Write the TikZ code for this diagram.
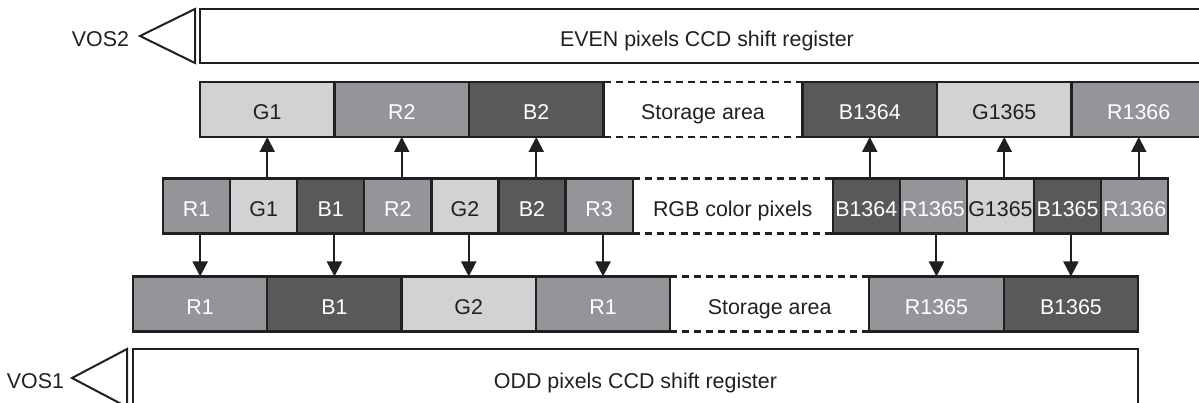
\documentclass[tikz,border=0pt]{standalone}
\usepackage{fontspec}
\setmainfont{Liberation Sans}
\usepackage{tikz}
\usetikzlibrary{arrows.meta, positioning}
\definecolor{gpix}{HTML}{D1D2D4}
\definecolor{rpix}{HTML}{939598}
\definecolor{bpix}{HTML}{58595B}
\definecolor{ink}{HTML}{231F20}
\tikzstyle{cell} = [draw=ink, line width=2.3pt, rectangle, outer sep=0pt, inner sep=0pt,
   minimum height=55pt, text height=21pt, text depth=0pt, font=\fontsize{21.4}{24}\selectfont]
\tikzstyle{wide} = [cell, minimum width=134.5pt]
\tikzstyle{narrow} = [cell, minimum width=67.1pt]
\tikzstyle{gpx} = [fill=gpix, text=ink]
\tikzstyle{rpx} = [fill=rpix, text=white]
\tikzstyle{bpx} = [fill=bpix, text=white]
\tikzstyle{store} = [cell, draw=none, minimum width=199pt, text=ink]
\tikzstyle{reg} = [draw=ink, line width=2pt, rectangle, outer sep=0pt, inner sep=0pt,
   text height=21pt, text depth=0pt, font=\fontsize{21.4}{24}\selectfont, text=ink]
\tikzstyle{outp} = [draw=ink, line width=2pt, fill=white, line join=miter]
\tikzstyle{move} = [draw=ink, line width=2pt, -{Triangle[width=15pt,length=15pt]}]

\begin{document}
\begin{tikzpicture}[x=1pt,y=-1pt]
  \useasboundingbox (0,0) rectangle (1199,403);

  % shift registers
  \node[reg,minimum width=1014pt,minimum height=54pt] at (707,36)(even){EVEN pixels CCD shift register};
  \node[reg,minimum width=1005pt,minimum height=58pt] at (635.5,378)(odd){ODD pixels CCD shift register};
  \draw[outp] ([xshift=-5pt]even.north west) -- ([xshift=-5pt]even.south west) -- ([xshift=-60pt]even.west) -- cycle;
  \draw[outp] ([xshift=-6pt]odd.north west) -- ([xshift=-6pt]odd.south west) -- ([xshift=-61pt]odd.west) -- cycle;
  \node[reg,draw=none,anchor=east] at (129,36)(vos2){VOS2};
  \node[reg,draw=none,anchor=east] at (64,378)(vos1){VOS1};

  % even storage row
  \node[wide,gpx] at (267.25,109.5)(t1){G1};
  \node[wide,rpx,right=0pt of t1](t2){R2};
  \node[wide,bpx,right=0pt of t2](t3){B2};
  \node[store,right=0pt of t3](ts){Storage area};
  \node[wide,bpx,right=0pt of ts](t4){B1364};
  \node[wide,gpx,right=0pt of t4](t5){G1365};
  \node[wide,rpx,right=0pt of t5](t6){R1366};
  \draw[ink,line width=2.2pt,dash pattern=on 7pt off 5pt] (t3.north east) -- (t4.north west) (t3.south east) -- (t4.south west);

  % colour pixels
  \node[narrow,rpx] at (196.55,206)(m1){R1};
  \node[narrow,gpx,right=0pt of m1](m2){G1};
  \node[narrow,bpx,right=0pt of m2](m3){B1};
  \node[narrow,rpx,right=0pt of m3](m4){R2};
  \node[narrow,gpx,right=0pt of m4](m5){G2};
  \node[narrow,bpx,right=0pt of m5](m6){B2};
  \node[narrow,rpx,right=0pt of m6](m7){R3};
  \node[store,minimum width=200pt,right=0pt of m7](ms){RGB color pixels};
  \node[narrow,bpx,right=0pt of ms](m8){B1364};
  \node[narrow,rpx,right=0pt of m8](m9){R1365};
  \node[narrow,gpx,right=0pt of m9](m10){G1365};
  \node[narrow,bpx,right=0pt of m10](m11){B1365};
  \node[narrow,rpx,right=0pt of m11](m12){R1366};
  \draw[ink,line width=2.2pt,dash pattern=on 7pt off 5pt] (m7.north east) -- (m8.north west) (m7.south east) -- (m8.south west);

  % odd storage row
  \node[wide,rpx,minimum width=134.3pt] at (200.15,304)(b1){R1};
  \node[wide,bpx,minimum width=134.3pt,right=0pt of b1](b2){B1};
  \node[wide,gpx,minimum width=134.3pt,right=0pt of b2](b3){G2};
  \node[wide,rpx,minimum width=134.3pt,right=0pt of b3](b4){R1};
  \node[store,right=0pt of b4](bs){Storage area};
  \node[wide,rpx,right=0pt of bs](b5){R1365};
  \node[wide,bpx,right=0pt of b5](b6){B1365};
  \draw[ink,line width=2.2pt,dash pattern=on 7pt off 5pt] (b4.north east) -- (b5.north west) (b4.south east) -- (b5.south west);

  % transfers
  \draw[move] (m2.north -| t1.south) -- (t1.south);
  \draw[move] (m4.north -| t2.south) -- (t2.south);
  \draw[move] (m6.north -| t3.south) -- (t3.south);
  \draw[move] (m8.north -| t4.south) -- (t4.south);
  \draw[move] (m10.north -| t5.south) -- (t5.south);
  \draw[move] (m12.north -| t6.south) -- (t6.south);

  \draw[move] (m1.south -| b1.north) -- (b1.north);
  \draw[move] (m3.south -| b2.north) -- (b2.north);
  \draw[move] (m5.south -| b3.north) -- (b3.north);
  \draw[move] (m7.south -| b4.north) -- (b4.north);
  \draw[move] (m9.south -| b5.north) -- (b5.north);
  \draw[move] (m11.south -| b6.north) -- (b6.north);
\end{tikzpicture}
\end{document}
